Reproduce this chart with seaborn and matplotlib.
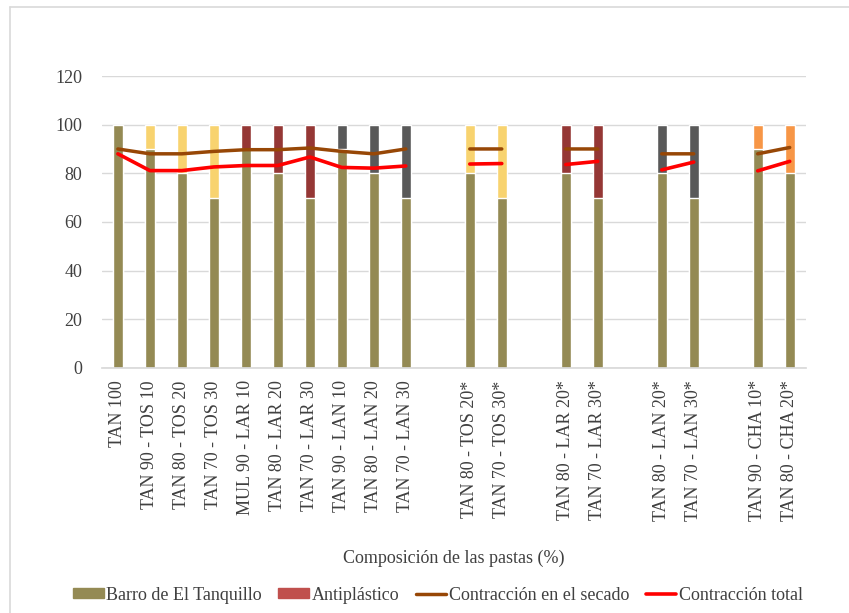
import numpy as np
import pandas as pd
import seaborn as sns
import matplotlib.pyplot as plt
from matplotlib.patches import Patch
from matplotlib.lines import Line2D

sns.set_theme(style="white")
plt.rcParams['font.family'] = ['Liberation Serif', 'DejaVu Serif']

# === Data ===
labels = ["TAN 100", "TAN 90 - TOS 10", "TAN 80 - TOS 20", "TAN 70 - TOS 30",
          "MUL 90 - LAR 10", "TAN 80 - LAR 20", "TAN 70 - LAR 30",
          "TAN 90 - LAN 10", "TAN 80 - LAN 20", "TAN 70 - LAN 30", "",
          "TAN 80 - TOS 20*", "TAN 70 - TOS 30*", "",
          "TAN 80 - LAR 20*", "TAN 70 - LAR 30*", "",
          "TAN 80 - LAN 20*", "TAN 70 - LAN 30*", "",
          "TAN 90 - CHA 10*", "TAN 80 - CHA 20*"]
material = ["TAN", "TOS", "TOS", "TOS", "LAR", "LAR", "LAR", "LAN", "LAN", "LAN", "-",
            "TOS", "TOS", "-", "LAR", "LAR", "-", "LAN", "LAN", "-", "CHA", "CHA"]
nan = np.nan
barro = [100, 90, 80, 70, 90, 80, 70, 90, 80, 70, nan,
         80, 70, nan, 80, 70, nan, 80, 70, nan, 90, 80]
antiplastico = [0, 10, 20, 30, 10, 20, 30, 10, 20, 30, nan,
                20, 30, nan, 20, 30, nan, 20, 30, nan, 10, 20]
secado = [90, 88, 88, 89, 89.7, 89.7, 90.4, 89, 88, 90, nan,
          90, 90, nan, 90, 90, nan, 88, 88, nan, 88, 90.6]
total = [88, 81.1, 81.1, 82.6, 83.2, 83.2, 86.7, 82.4, 82.1, 83, nan,
         83.8, 84, nan, 83.6, 84.9, nan, 81.4, 84.6, nan, 81, 84.9]

c_barro = "#948A54"
mat_colors = {"TAN": c_barro, "TOS": "#F8D36F", "LAR": "#953735",
              "LAN": "#595959", "CHA": "#F79646", "-": "#FFFFFF"}
c_anti_legend = "#C0504D"
c_secado = "#974706"
c_total = "#FF0000"
txt = "#404040"

slots = [str(i) for i in range(len(labels))]
df = pd.DataFrame({"slot": slots, "material": material,
                   "barro": barro,
                   "suma": np.array(barro) + np.array(antiplastico)})

fig, ax = plt.subplots(figsize=(8.49, 6.13), dpi=100)
fig.subplots_adjust(left=0.120, right=0.949, top=0.876, bottom=0.400)

# stacked bars: full height coloured by antiplastic, barro on top of it
sns.barplot(data=df, x="slot", y="suma", hue="material", palette=mat_colors,
            order=slots, width=0.32, legend=False, ax=ax, saturation=1)
sns.barplot(data=df, x="slot", y="barro", color=c_barro, order=slots,
            width=0.32, ax=ax, saturation=1)

xs = np.arange(len(labels))
ax.plot(xs, secado, color=c_secado, lw=2.5, zorder=5)
ax.plot(xs, total, color=c_total, lw=2.6, zorder=5)

ax.set_xlim(-0.5, len(labels) - 0.5)
ax.set_ylim(0, 120)
ax.set_yticks(range(0, 121, 20))
ax.yaxis.grid(True, color="#D9D9D9", lw=1)
ax.set_axisbelow(True)
for s in ["top", "right", "left"]:
    ax.spines[s].set_visible(False)
ax.spines["bottom"].set_color("#D9D9D9")
ax.tick_params(axis="both", length=0, labelsize=13, colors=txt)
ax.tick_params(axis="y", pad=14)
ax.tick_params(axis="x", pad=9)
ax.set_xticks(xs)
ax.set_xticklabels(labels, rotation=90)
ax.set_ylabel("")
ax.set_xlabel("Composición de las pastas (%)", fontsize=13, color=txt, labelpad=20)

handles = [Patch(color=c_barro, label="Barro de El Tanquillo"),
           Patch(color=c_anti_legend, label="Antiplástico"),
           Line2D([], [], color=c_secado, lw=2.5, label="Contracción en el secado"),
           Line2D([], [], color=c_total, lw=2.6, label="Contracción total")]
fig.legend(handles=handles, loc="center", bbox_to_anchor=(0.516, 0.029), ncol=4,
           frameon=False, fontsize=13, handlelength=1.7, handleheight=0.5,
           handletextpad=0.15, columnspacing=0.9, labelcolor=txt)

# chart-area border (top and left edges visible)
fig.add_artist(Line2D([10 / 849, 10 / 849], [0, 1 - 7 / 613], color="#D9D9D9", lw=1.2))
fig.add_artist(Line2D([10 / 849, 1], [1 - 7 / 613, 1 - 7 / 613], color="#D9D9D9", lw=1.2))

plt.savefig("out.png", dpi=100)
plt.close()
